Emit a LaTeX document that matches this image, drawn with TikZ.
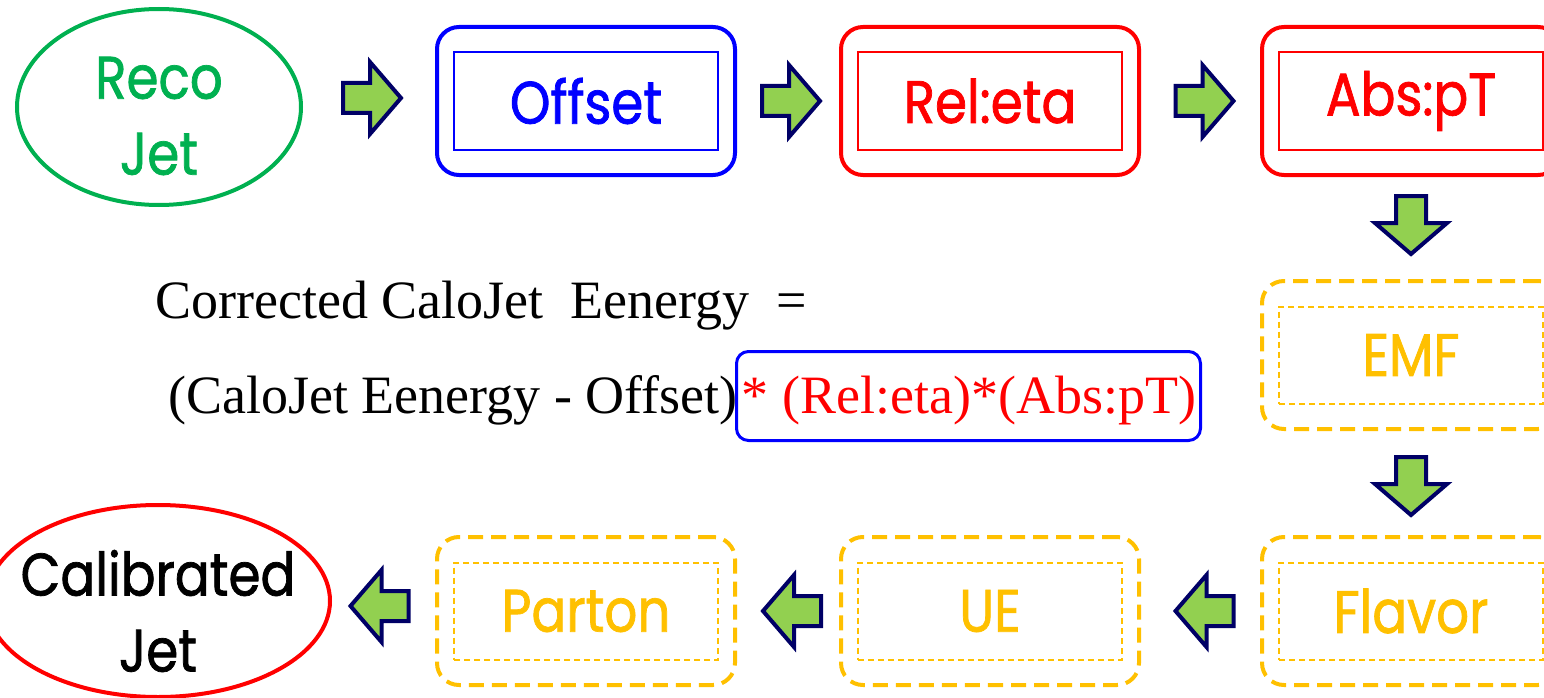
\documentclass[tikz,border=0pt]{standalone}
\usepackage{fontspec}
\setmainfont{Liberation Serif}
\newfontfamily\gothic{Poppins}[FakeStretch=0.86, FakeBold=1.2]
\usetikzlibrary{calc,shapes.geometric}
\definecolor{jetgreen}{HTML}{00B050}
\definecolor{stepblue}{HTML}{0000FF}
\definecolor{stepred}{HTML}{FF0000}
\definecolor{stepgold}{HTML}{FFC000}
\definecolor{arrowfill}{HTML}{92D050}
\definecolor{arrowline}{HTML}{000066}
\tikzset{
  outerbox/.style={draw=#1, line width=4pt, rounded corners=22pt,
    minimum width=298pt, minimum height=148pt, inner sep=0pt},
  innerbox/.style={draw=#1, line width=2pt, minimum width=264pt,
    minimum height=97pt, inner sep=0pt, text=#1,
    font=\gothic\fontsize{60}{60}\selectfont},
  optbox/.style={outerbox=stepgold, dash pattern=on 15pt off 8pt},
  optinner/.style={innerbox=stepgold, dash pattern=on 6pt off 4pt},
  jetring/.style={draw=#1, line width=4pt, ellipse, inner sep=0pt},
  jettext/.style={inner sep=0pt, align=center,
    font=\gothic\fontsize{60}{76}\selectfont},
  blockarrow/.pic={
    \draw[arrowline, fill=arrowfill, line width=4pt, line join=miter]
      (-29,-15) -- (-2,-15) -- (-2,-36) -- (29,0) -- (-2,36) -- (-2,15)
      -- (-29,15) -- cycle;},
  formula/.style={anchor=base west, inner sep=0pt,
    font=\fontsize{54}{54}\selectfont}
}
\begin{document}
\begin{tikzpicture}[x=1pt, y=-1pt]
\useasboundingbox (0,0) rectangle (1544,698);

% top row
\node[jetring=jetgreen, minimum width=284pt, minimum height=196pt]
  (reco) at (159,107) {};
\node[jettext, text=jetgreen] (recot) at (159,116) {Reco\\Jet};
\node[outerbox=stepblue] (off) at (586,101) {};
\node[innerbox=stepblue] (offi) at (off.center) {Offset};
\node[outerbox=stepred] (rel) at (990,101) {};
\node[innerbox=stepred] (reli) at (rel.center) {Rel:eta};
\node[outerbox=stepred] (abs) at (1411,101) {};
\node[innerbox=stepred] (absi) at (abs.center) {Abs:pT};

% right column and bottom row
\node[optbox] (emf) at (1411,355) {};
\node[optinner] (emfi) at (emf.center) {EMF};
\node[optbox] (flv) at (1411,611) {};
\node[optinner] (flvi) at (flv.center) {Flavor};
\node[optbox] (ue) at (990,611) {};
\node[optinner] (uei) at (ue.center) {UE};
\node[optbox] (prt) at (586,611) {};
\node[optinner] (prti) at (prt.center) {Parton};
\node[jetring=stepred, minimum width=344pt, minimum height=192pt]
  (cal) at (158,601) {};
\node[jettext, text=black] (calt) at (158,611) {Calibrated\\Jet};

% flow arrows
\pic at ($(reco.east)!0.5!(off.west)+(3,-6)$) {blockarrow};
\pic at ($(off.east)!0.5!(rel.west)+(3,0)$) {blockarrow};
\pic at ($(rel.east)!0.5!(abs.west)+(4,0)$) {blockarrow};
\pic[rotate=-90] at ($(abs.south)!0.5!(emf.north)+(0,-3)$) {blockarrow};
\pic[rotate=-90] at ($(emf.south)!0.5!(flv.north)+(0,3)$) {blockarrow};
\pic[rotate=180] at ($(flv.west)!0.5!(ue.east)+(4,0)$) {blockarrow};
\pic[rotate=180] at ($(ue.west)!0.5!(prt.east)+(4,0)$) {blockarrow};
\pic[rotate=180] at ($(prt.west)!0.5!(cal.east)+(-4,0)$) {blockarrow};

% correction formula
\node[formula] (f1) at (155,318) {Corrected CaloJet\ \ Eenergy\ \ =};
\node[formula] (f2) at (168,413) {(CaloJet Eenergy - Offset)};
\node[draw=stepblue, line width=3pt, rounded corners=12pt,
  minimum width=464pt, minimum height=89pt, inner sep=0pt]
  (fbox) at (968.5,396) {};
\node[formula, anchor=base, text=stepred] (f3) at (969,413)
  {* (Rel:eta)*(Abs:pT)};
\end{tikzpicture}
\end{document}
